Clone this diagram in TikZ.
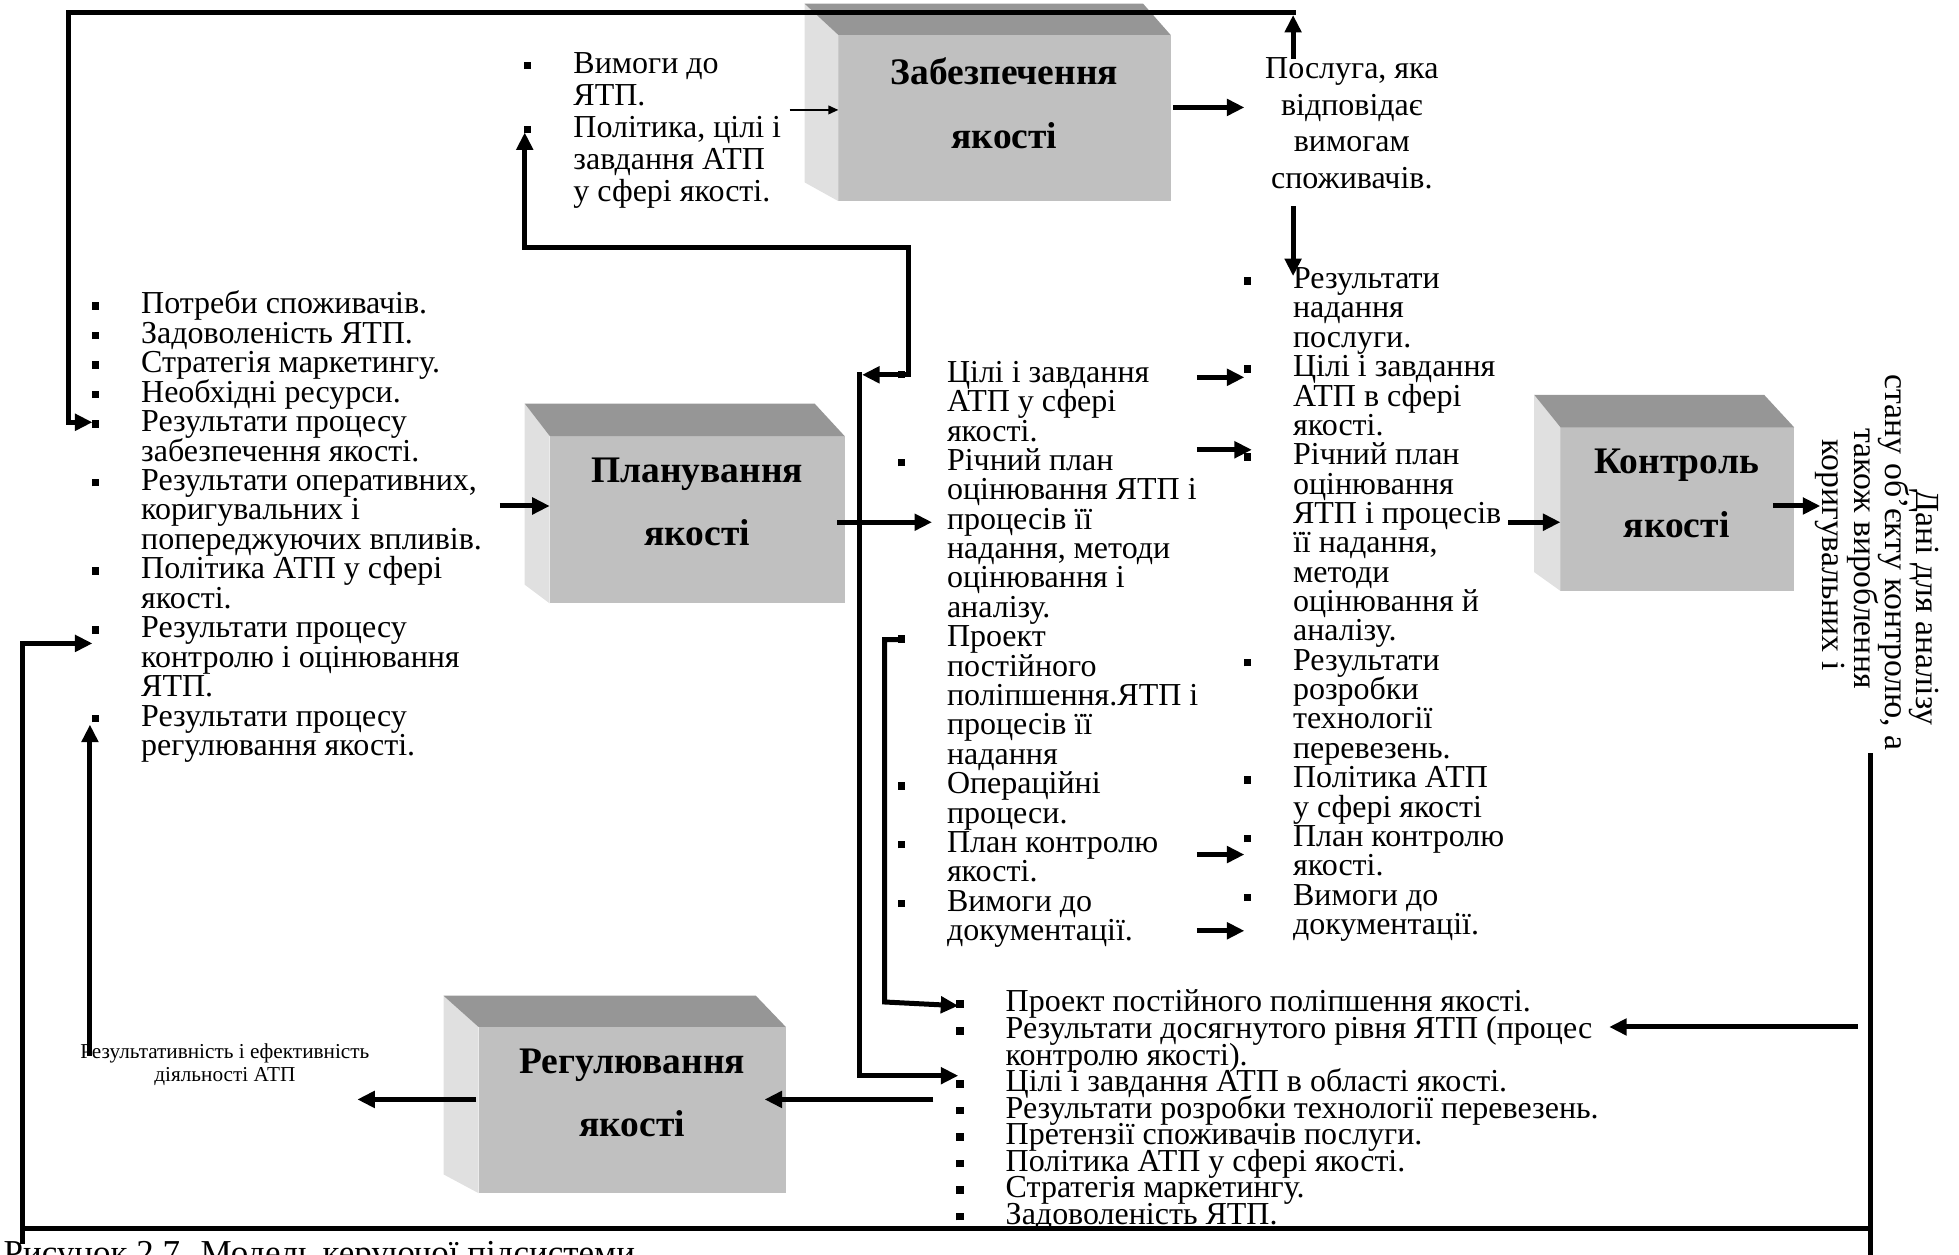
\documentclass[tikz,border=0pt]{standalone}
\usepackage{fontspec}
\setmainfont{Liberation Serif}
\usetikzlibrary{arrows.meta,calc}

\definecolor{frontgray}{HTML}{C0C0C0}
\definecolor{topgray}{HTML}{969696}
\definecolor{sidegray}{HTML}{E0E0E0}

% square list bullet hanging to the left of the text column
\newcommand\bu{\leavevmode\llap{\rule[1.6pt]{3pt}{3pt}\hspace{16.8pt}}}
% a text column whose reference point is the first baseline; exact line pitch
\newcommand\textcol[3]{\parbox[t]{#1}{\fontsize{12.8}{#2}\selectfont\lineskiplimit=-\maxdimen\raggedright #3}}
% top and left faces of a block drawn around its front face node
\newcommand\blockfaces[5]{%
  \fill[sidegray] (#1.north west) -- ++(-#2,-#4) -- ($(#1.south west)+(-#2,-#5)$) -- (#1.south west) -- cycle;
  \fill[topgray] (#1.north west) -- ++(-#2,-#4) -- ($(#1.north east)+(-#3,-#4)$) -- (#1.north east) -- cycle;}

\begin{document}
\begin{tikzpicture}[x=0.5pt,y=-0.5pt,
  conn/.style={line width=2pt,-{Triangle[length=7pt,width=6.5pt]}},
  wire/.style={line width=2pt},
  thinconn/.style={line width=0.6pt,-{Triangle[length=4pt,width=3.5pt]}},
  front/.style={fill=frontgray,draw=none,inner sep=0,outer sep=0},
  txt/.style={inner sep=0,outer sep=0},
  title/.style={inner sep=0,outer sep=0,font=\bfseries\fontsize{15}{25.5}\selectfont}]

\useasboundingbox (0,0) rectangle (1568,1004);

% ---- process blocks
\node[front,minimum width=133pt,minimum height=66.5pt] (zab) at (804,94.5) {};
\node[front,minimum width=118pt,minimum height=67pt] (plan) at (558,416) {};
\node[front,minimum width=93.5pt,minimum height=65.5pt] (ctrl) at (1342.5,407.5) {};
\node[front,minimum width=123pt,minimum height=66.5pt] (reg) at (506,888.5) {};
\blockfaces{zab}{27}{22}{25}{15}
\blockfaces{plan}{20}{24}{26}{15}
\blockfaces{ctrl}{21}{24}{26}{15}
\blockfaces{reg}{28}{24}{25}{15}

\node[title,anchor=base] (zabT) at (804,68) {\parbox[t]{200pt}{\centering Забезпечення\\якості}};
\node[title,anchor=base] (planT) at (558,386) {\parbox[t]{200pt}{\centering Планування\\якості}};
\node[title,anchor=base] (ctrlT) at (1342,379) {\parbox[t]{200pt}{\centering Контроль\\якості}};
\node[title,anchor=base] (regT) at (506,859) {\parbox[t]{200pt}{\centering Регулювання\\якості}};

% ---- text columns
\node[txt,anchor=base west] (req) at (459,58.5) {\textcol{200pt}{12.85pt}{%
\bu Вимоги до\\
ЯТП.\\
\bu Політика, цілі і\\
завдання АТП\\
у сфері якості.}};

\node[txt,anchor=base] (posl) at (1082,63) {\parbox[t]{150pt}{\centering\fontsize{12.8}{14.65}\selectfont
Послуга, яка\\відповідає\\вимогам\\споживачів.}};

\node[txt,anchor=base west] (lft) at (113,251) {\textcol{300pt}{11.8pt}{%
\bu Потреби споживачів.\\
\bu Задоволеність ЯТП.\\
\bu Стратегія маркетингу.\\
\bu Необхідні ресурси.\\
\bu Результати процесу\\
забезпечення якості.\\
\bu Результати оперативних,\\
коригувальних і\\
попереджуючих впливів.\\
\bu Політика АТП у сфері\\
якості.\\
\bu Результати процесу\\
контролю і оцінювання\\
ЯТП.\\
\bu Результати процесу\\
регулювання якості.}};

\node[txt,anchor=base west] (mid) at (758,306) {\textcol{200pt}{11.76pt}{%
\bu Цілі і завдання\\
АТП у сфері\\
якості.\\
\bu Річний план\\
оцінювання ЯТП і\\
процесів її\\
надання, методи\\
оцінювання і\\
аналізу.\\
\bu Проект\\
постійного\\
поліпшення.ЯТП і\\
процесів її\\
надання\\
\bu Операційні\\
процеси.\\
\bu План контролю\\
якості.\\
\bu Вимоги до\\
документації.}};

\node[txt,anchor=base west] (rgt) at (1035,231) {\textcol{200pt}{11.75pt}{%
\bu Результати\\
надання\\
послуги.\\
\bu Цілі і завдання\\
АТП в сфері\\
якості.\\
\bu Річний план\\
оцінювання\\
ЯТП і процесів\\
її надання,\\
методи\\
оцінювання й\\
аналізу.\\
\bu Результати\\
розробки\\
технології\\
перевезень.\\
\bu Політика АТП\\
у сфері якості\\
\bu План контролю\\
якості.\\
\bu Вимоги до\\
документації.}};

\node[txt,anchor=base west] (bot) at (805,810) {\textcol{320pt}{10.63pt}{%
\bu Проект постійного поліпшення якості.\\
\bu Результати досягнутого рівня ЯТП (процес\\
контролю якості).\\
\bu Цілі і завдання АТП в області якості.\\
\bu Результати розробки технології перевезень.\\
\bu Претензії споживачів послуги.\\
\bu Політика АТП у сфері якості.\\
\bu Стратегія маркетингу.\\
\bu Задоволеність ЯТП.}};

\node[txt,anchor=base west,rotate=-90] (data) at (1534,300) {\parbox[t]{200pt}{\fontsize{13.5}{12.5}\selectfont\lineskiplimit=-\maxdimen
\hspace*{46pt}Дані для аналізу\\
стану об’єкту контролю, а\\
\hspace*{21.5pt}також вироблення\\
\hspace*{26pt}коригувальних і}};

\node[txt,anchor=base] (eff) at (180,847) {\parbox[t]{200pt}{\centering\fontsize{8.5}{9.5}\selectfont
Результативність і ефективність\\діяльності АТП}};

\node[txt,anchor=base west] (cap) at (3,1012) {\fontsize{14}{16}\selectfont Рисунок 2.7. Модель керуючої підсистеми};

% ---- connector end points
\coordinate (poslTop) at (1035,47);
\coordinate (fbTip) at (1035,12);
\coordinate (fbStart) at (1037,10);
\coordinate (fbCorner) at (55,10);
\coordinate (lftIn1) at (74,338);
\coordinate (zabOut) at (939,86);
\coordinate (poslIn) at (996,86);
\coordinate (reqOut) at (632,88);
\coordinate (poslBot) at (1035,165);
\coordinate (rgtIn0) at (1035,221);
\coordinate (lftOut) at (400,405);
\coordinate (planOut) at (670,418);
\coordinate (midIn) at (746,418);
\coordinate (goalJ) at (727,300);
\coordinate (goalUp) at (727,198);
\coordinate (reqIn) at (420,106);
\coordinate (goalLeft) at (690,300);
\coordinate (trunkTop) at (688,298);
\coordinate (botIn3) at (767,861);
\coordinate (projB) at (722,512);
\coordinate (projL) at (708,512);
\coordinate (projD) at (708,802);
\coordinate (botIn1) at (767,805);
\coordinate (m1) at (958,302);  \coordinate (r1) at (996,302);
\coordinate (m2) at (958,360);  \coordinate (r2) at (1002,360);
\coordinate (m3) at (958,684);  \coordinate (r3) at (996,684);
\coordinate (m4) at (958,745);  \coordinate (r4) at (996,745);
\coordinate (rgtOut) at (1207,418);
\coordinate (ctrlOut) at (1419,405);
\coordinate (dataIn) at (1457,405);
\coordinate (dataLine) at (1497,603);
\coordinate (dataBot) at (1497,1006);
\coordinate (loopR) at (1499,983);
\coordinate (loopL) at (18,983);
\coordinate (loopStub) at (18,996);
\coordinate (lftIn2) at (74,515);
\coordinate (resOut) at (1487,822);
\coordinate (botIn2) at (1288,822);
\coordinate (regFeed) at (747,880);
\coordinate (regIn) at (612,880);
\coordinate (regOut) at (381,880);
\coordinate (effIn) at (286,880);
\coordinate (effUp) at (72,845);
\coordinate (lftIn3) at (72,580);

% ---- connectors
\draw[conn] (poslTop) -- (fbTip);
\draw[conn] (fbStart) -- (fbCorner) |- (lftIn1);
\draw[conn] (zabOut) -- (poslIn);
\draw[thinconn] (reqOut) -- (reqOut -| zab.west);
\draw[conn] (poslBot) -- (rgtIn0);
\draw[conn] (lftOut) -- (lftOut -| plan.west);
\draw[conn] (planOut) -- (midIn);
\draw[conn] (goalJ) -- (goalUp) -| (reqIn);
\draw[conn] ([xshift=1pt]goalJ) -- (goalLeft);
\draw[conn] (trunkTop) |- (botIn3);
\draw[conn] (projB) -- (projL) -- (projD) -- (botIn1);
\draw[conn] (m1) -- (r1);
\draw[conn] (m2) -- (r2);
\draw[conn] (m3) -- (r3);
\draw[conn] (m4) -- (r4);
\draw[conn] (rgtOut) -- (rgtOut -| ctrl.west);
\draw[conn] (ctrlOut) -- (dataIn);
\draw[wire] (dataLine) -- (dataBot);
\draw[conn] (loopR) -- (loopL) |- (lftIn2);
\draw[wire] ([yshift=1pt]loopL) -- (loopStub);
\draw[conn] (resOut) -- (botIn2);
\draw[conn] (regFeed) -- (regIn);
\draw[conn] (regOut) -- (effIn);
\draw[conn] (effUp) -- (lftIn3);
\end{tikzpicture}
\end{document}
